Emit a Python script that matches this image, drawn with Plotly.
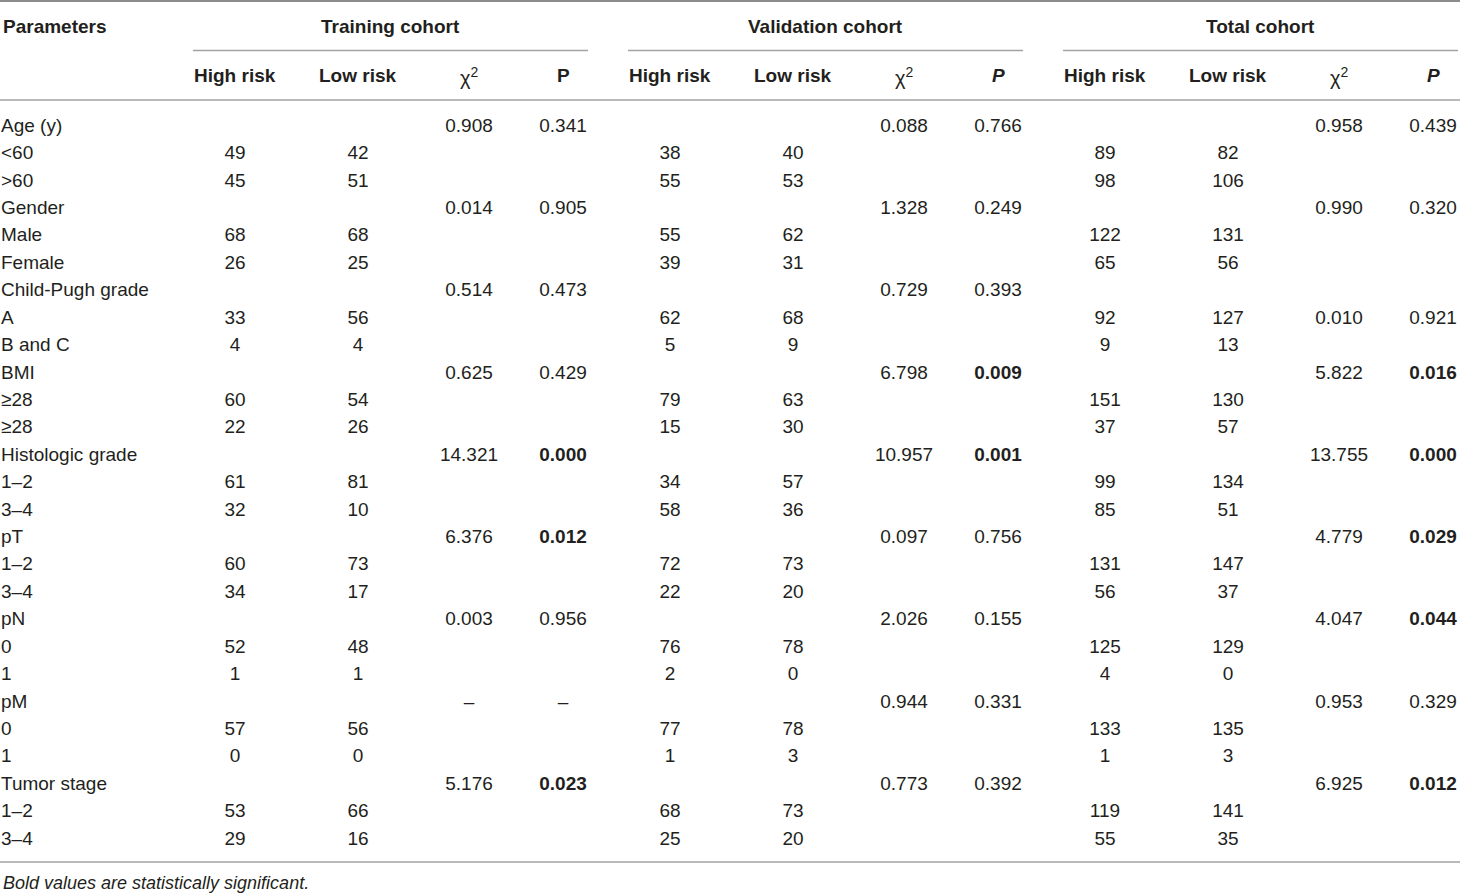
import plotly.graph_objects as go

# row labels (first column)
params = ["Age (y)", "<60", ">60", "Gender", "Male", "Female",
          "Child-Pugh grade", "A", "B and C", "BMI", "≥28", "≥28",
          "Histologic grade", "1–2", "3–4", "pT", "1–2", "3–4",
          "pN", "0", "1", "pM", "0", "1", "Tumor stage", "1–2", "3–4"]

# training cohort
train_high = ["", "49", "45", "", "68", "26", "", "33", "4", "", "60", "22", "", "61", "32",
              "", "60", "34", "", "52", "1", "", "57", "0", "", "53", "29"]
train_low = ["", "42", "51", "", "68", "25", "", "56", "4", "", "54", "26", "", "81", "10",
             "", "73", "17", "", "48", "1", "", "56", "0", "", "66", "16"]
train_chi = ["0.908", "", "", "0.014", "", "", "0.514", "", "", "0.625", "", "", "14.321", "", "",
             "6.376", "", "", "0.003", "", "", "–", "", "", "5.176", "", ""]
train_p = ["0.341", "", "", "0.905", "", "", "0.473", "", "", "0.429", "", "", "0.000", "", "",
           "0.012", "", "", "0.956", "", "", "–", "", "", "0.023", "", ""]

# validation cohort
val_high = ["", "38", "55", "", "55", "39", "", "62", "5", "", "79", "15", "", "34", "58",
            "", "72", "22", "", "76", "2", "", "77", "1", "", "68", "25"]
val_low = ["", "40", "53", "", "62", "31", "", "68", "9", "", "63", "30", "", "57", "36",
           "", "73", "20", "", "78", "0", "", "78", "3", "", "73", "20"]
val_chi = ["0.088", "", "", "1.328", "", "", "0.729", "", "", "6.798", "", "", "10.957", "", "",
           "0.097", "", "", "2.026", "", "", "0.944", "", "", "0.773", "", ""]
val_p = ["0.766", "", "", "0.249", "", "", "0.393", "", "", "0.009", "", "", "0.001", "", "",
         "0.756", "", "", "0.155", "", "", "0.331", "", "", "0.392", "", ""]

# total cohort
tot_high = ["", "89", "98", "", "122", "65", "", "92", "9", "", "151", "37", "", "99", "85",
            "", "131", "56", "", "125", "4", "", "133", "1", "", "119", "55"]
tot_low = ["", "82", "106", "", "131", "56", "", "127", "13", "", "130", "57", "", "134", "51",
           "", "147", "37", "", "129", "0", "", "135", "3", "", "141", "35"]
tot_chi = ["0.958", "", "", "0.990", "", "", "", "0.010", "", "5.822", "", "", "13.755", "", "",
           "4.779", "", "", "4.047", "", "", "0.953", "", "", "6.925", "", ""]
tot_p = ["0.439", "", "", "0.320", "", "", "", "0.921", "", "0.016", "", "", "0.000", "", "",
         "0.029", "", "", "0.044", "", "", "0.329", "", "", "0.012", "", ""]

groups = ["Training cohort", "Validation cohort", "Total cohort"]
sub_headers = ["<b>High risk</b>", "<b>Low risk</b>", "χ<sup>2</sup>"]
p_headers = ["<b>P</b>", "<b><i>P</i></b>", "<b><i>P</i></b>"]
footnote = "Bold values are statistically significant."

W, H = 1460, 894
FONT = "Liberation Sans, Arial, Helvetica, sans-serif"
TXT = "#231f20"
LINE = "#a3a3a3"

row0, row_h = 127, 27.42
rows_y = [row0 + i * row_h for i in range(len(params))]
group_x0 = [193, 628, 1063]
col_off = [42, 165, 276, 370]
group_w = 395


def bold_p(vals):
    out = []
    for v in vals:
        try:
            out.append("<b>%s</b>" % v if float(v) < 0.05 else v)
        except ValueError:
            out.append(v)
    return out


def keep(xs, vals):
    # drop empty cells so no blank text nodes are drawn
    pairs = [(x, y, v) for x, y, v in zip(xs, rows_y, vals) if v]
    return [p[0] for p in pairs], [p[1] for p in pairs], [p[2] for p in pairs]


fig = go.Figure()

fig.add_trace(go.Scatter(x=[1] * len(params), y=rows_y, text=params, mode="text",
                         textposition="middle right", hoverinfo="skip", cliponaxis=False,
                         textfont=dict(family=FONT, size=19, color=TXT)))

cohorts = [
    [train_high, train_low, train_chi, bold_p(train_p)],
    [val_high, val_low, val_chi, bold_p(val_p)],
    [tot_high, tot_low, tot_chi, bold_p(tot_p)],
]
for g, cols in enumerate(cohorts):
    for c, vals in enumerate(cols):
        xs, ys, ts = keep([group_x0[g] + col_off[c]] * len(vals), vals)
        fig.add_trace(go.Scatter(x=xs, y=ys, text=ts, mode="text", cliponaxis=False,
                                 textposition="middle center", hoverinfo="skip",
                                 textfont=dict(family=FONT, size=19, color=TXT)))

# headers
hdr_font = dict(family=FONT, size=19, color=TXT)
fig.add_annotation(x=1, y=26, text="<b>Parameters</b>", showarrow=False, xanchor="left",
                   yanchor="middle", font=hdr_font)
for g in range(3):
    fig.add_annotation(x=group_x0[g] + group_w / 2, y=26, text="<b>%s</b>" % groups[g],
                       showarrow=False, xanchor="center", yanchor="middle", font=hdr_font)
    for c, lab in enumerate(sub_headers + [p_headers[g]]):
        fnt = dict(hdr_font, size=20) if c == 2 else hdr_font
        fig.add_annotation(x=group_x0[g] + col_off[c], y=76 if c == 2 else 75, text=lab,
                           showarrow=False, xanchor="center", yanchor="middle", font=fnt)
    fig.add_shape(type="line", x0=group_x0[g], x1=min(group_x0[g] + group_w, W), y0=50.5, y1=50.5,
                  line=dict(color=LINE, width=1.5))

fig.add_shape(type="line", x0=0, x1=W, y0=1, y1=1, line=dict(color="#8c8c8c", width=2))
fig.add_shape(type="line", x0=0, x1=W, y0=100, y1=100, line=dict(color=LINE, width=1.5))
fig.add_shape(type="line", x0=0, x1=W, y0=862, y1=862, line=dict(color=LINE, width=1.5))

fig.add_annotation(x=1, y=883, text="<i>%s</i>" % footnote, showarrow=False, xanchor="left",
                   yanchor="middle", font=dict(family=FONT, size=18, color=TXT))

fig.update_layout(
    width=W, height=H,
    margin=dict(l=0, r=0, t=0, b=0),
    paper_bgcolor="white", plot_bgcolor="white",
    showlegend=False,
    xaxis=dict(range=[0, W], visible=False, fixedrange=True),
    yaxis=dict(range=[H, 0], visible=False, fixedrange=True),
)

# the page's default body margin would push the table off by 8px
fig.write_html("out.html", config={"displayModeBar": False},
               post_script="document.body.style.margin='0';document.body.style.overflow='hidden';")
